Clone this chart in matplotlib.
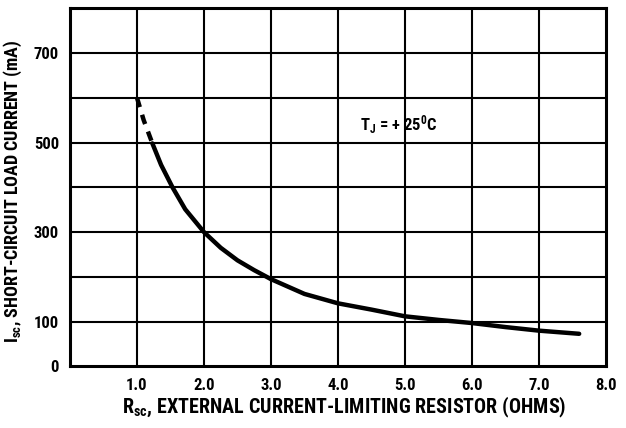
import matplotlib
matplotlib.use('Agg')
import matplotlib.pyplot as plt
from matplotlib import font_manager

# readings (T_J = +25 C)
r_dashed = [1.0, 1.1, 1.23]
i_dashed = [600, 550, 498]
r_solid = [1.23, 1.36, 1.53, 1.72, 2.0, 2.25, 2.5, 2.75, 3.0, 3.5, 4.0, 4.5,
           5.0, 5.5, 6.0, 6.5, 7.0, 7.6]
i_solid = [498, 450, 400, 351, 300, 265, 237, 215, 195, 162, 141, 127,
           112, 104, 97, 88, 80, 73]

x_ticks = [1, 2, 3, 4, 5, 6, 7, 8]
x_labels = ['1.0', '2.0', '3.0', '4.0', '5.0', '6.0', '7.0', '8.0']
y_ticks = [0, 100, 200, 300, 400, 500, 600, 700]
y_labels = ['0', '100', '', '300', '', '500', '', '700']

# condensed bold face, like the datasheet lettering
installed = set(f.name for f in font_manager.fontManager.ttflist)
narrow = 'DejaVu Sans'
for cand in ['Roboto Condensed', 'Liberation Sans Narrow', 'Archivo Narrow', 'Asap Condensed']:
    if cand in installed:
        narrow = cand
        break

plt.rcParams['font.family'] = [narrow, 'DejaVu Sans']
plt.rcParams['font.weight'] = 'bold'
plt.rcParams['mathtext.fontset'] = 'custom'
plt.rcParams['mathtext.rm'] = narrow + ':bold'
plt.rcParams['mathtext.it'] = narrow + ':bold'
plt.rcParams['mathtext.bf'] = narrow + ':bold'

fig = plt.figure(figsize=(6.26, 4.28), dpi=100)
ax = fig.add_axes([0.1118, 0.1437, 0.8562, 0.8373])

for x in range(1, 8):
    ax.axvline(x, color='black', lw=1.5, zorder=1)
for y in range(100, 800, 100):
    ax.axhline(y, color='black', lw=1.5, zorder=1)

ax.plot(r_dashed, i_dashed, color='black', lw=3.2, ls=(0, (2.2, 1.8)), zorder=3)
ax.plot(r_solid, i_solid, color='black', lw=3.2, solid_capstyle='round',
        solid_joinstyle='round', zorder=3)

ax.set_xlim(0, 8)
ax.set_ylim(0, 800)
ax.set_xticks(x_ticks)
ax.set_xticklabels(x_labels)
ax.set_yticks(y_ticks)
ax.set_yticklabels(y_labels)
ax.tick_params(length=0, labelsize=12, pad=8)
for lab in ax.get_xticklabels() + ax.get_yticklabels():
    lab.set_fontweight('bold')
for s in ax.spines.values():
    s.set_linewidth(2.2)

ax.text(4.33, 540, r'T$_\mathregular{J}$ = + 25$^\mathregular{0}$C', fontsize=12,
        fontweight='bold', va='center', ha='left')

ax.set_xlabel(r'R$_\mathregular{sc}$, EXTERNAL CURRENT-LIMITING RESISTOR (OHMS)',
              fontsize=14.5, fontweight='bold')
ax.set_ylabel(r'I$_\mathregular{sc}$, SHORT-CIRCUIT LOAD CURRENT (mA)',
              fontsize=13, fontweight='bold')
ax.xaxis.set_label_coords(0.511, -0.08)
ax.yaxis.set_label_coords(-0.086, 0.49)

plt.savefig('out.png', dpi=100)
